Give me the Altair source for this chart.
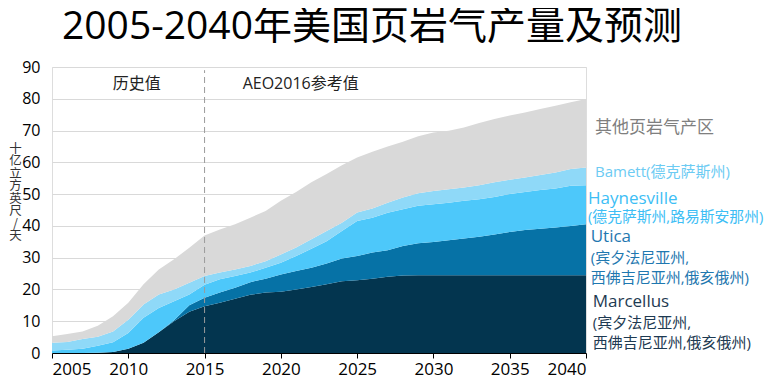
import altair as alt
import pandas as pd

years = list(range(2005, 2041))
marcellus = [0, 0, 0, 0.1, 0.3, 1.3, 3.2, 6.5, 10.0, 13.0, 14.7, 15.8, 17.1, 18.3, 19.0, 19.3, 20.0, 20.8,
             21.6, 22.6, 22.9, 23.4, 24.0, 24.4, 24.5, 24.5, 24.5, 24.5, 24.5, 24.5, 24.5, 24.5, 24.5, 24.5, 24.5, 24.5]
utica = [0, 0, 0, 0, 0, 0, 0, 0, 0.3, 2.0, 2.7, 3.2, 3.4, 4.0, 4.4, 5.4, 5.8, 6.0,
         6.6, 7.1, 7.6, 8.2, 8.3, 9.3, 10.0, 10.4, 11.0, 11.5, 12.1, 12.8, 13.6, 14.2, 14.6, 15.0, 15.5, 16.0]
haynesville = [0.8, 1.0, 1.3, 2.2, 3.1, 5.0, 7.9, 7.7, 6.0, 3.4, 4.1, 4.2, 3.7, 3.0, 3.4, 3.7, 4.7, 6.0,
               7.0, 8.7, 11.0, 11.0, 11.8, 11.5, 11.8, 11.9, 11.8, 11.9, 11.8, 11.8, 11.9, 12.0, 12.2, 12.3, 12.6, 12.3]
barnett = [2.4, 2.5, 3.1, 2.8, 3.4, 4.2, 4.2, 4.2, 3.7, 3.7, 2.7, 2.1, 2.1, 2.1, 2.1, 2.6, 2.7, 3.0,
           3.2, 2.6, 2.7, 2.9, 3.2, 3.7, 4.0, 4.2, 4.2, 4.2, 4.4, 4.6, 4.5, 4.5, 4.7, 5.0, 5.3, 5.6]
others = [2.1, 2.5, 2.4, 3.5, 4.8, 5.3, 6.3, 7.9, 9.5, 11.0, 12.8, 13.6, 14.2, 15.2, 15.8, 16.9, 17.5, 17.9,
          17.9, 18.1, 17.3, 17.8, 17.7, 17.6, 17.9, 18.4, 18.4, 18.9, 19.6, 19.9, 20.2, 20.5, 20.8, 21.0, 21.0, 21.5]

series_names = ["Marcellus", "Utica", "Haynesville", "Barnett", "其他页岩气产区"]
series_colors = ["#03354F", "#0672A6", "#4DC8FA", "#8FD9F8", "#D9D9D9"]

x_ticks = [2005, 2010, 2015, 2020, 2025, 2030, 2035, 2040]
y_ticks = [0, 10, 20, 30, 40, 50, 60, 70, 80, 90]

title_text = "2005-2040年美国页岩气产量及预测"
y_title = ["十", "亿", "立", "方", "英", "尺", "/", "天"]

period_texts = ["历史值", "AEO2016参考值"]
period_years = [2010.55, 2021.3]
period_levels = [84.7, 84.7]
split_year = [2015]

legend_lines = ["其他页岩气产区", "Bamett(德克萨斯州)", "Haynesville", "(德克萨斯州,路易斯安那州)",
                "Utica", "(宾夕法尼亚州,", "西佛吉尼亚州,俄亥俄州)",
                "Marcellus", "(宾夕法尼亚州,", "西佛吉尼亚州,俄亥俄州)"]
legend_years = [2040.59, 2040.59, 2040.13, 2040.13, 2040.31, 2040.31, 2040.31, 2040.44, 2040.44, 2040.44]
legend_levels = [70.7, 57.0, 48.6, 42.4, 36.6, 29.8, 23.5, 16.1, 9.3, 3.05]
legend_colors = ["#7F7F7F", "#6CCBF3", "#3DBEF5", "#3DBEF5", "#1F78B0", "#1F78B0", "#1F78B0",
                 "#1E3A52", "#1E3A52", "#1E3A52"]
legend_sizes = [17, 15, 17, 14.8, 17, 15, 15, 17, 15, 15]

FONT = "Open Sans, Noto Sans CJK SC"

rows = []
for i, (name, vals) in enumerate(zip(series_names, [marcellus, utica, haynesville, barnett, others])):
    for yr, v in zip(years, vals):
        rows.append({"year": yr, "value": v, "series": name, "order": i})
df = pd.DataFrame(rows)

x_scale = alt.Scale(domain=[2005, 2040], nice=False, zero=False)
y_scale = alt.Scale(domain=[0, 90], nice=False)

x_axis = alt.Axis(values=x_ticks, format="d", title=None, grid=False,
                  labelFontSize=17, labelColor="#000", labelFont=FONT,
                  domainColor="#000", tickColor="#000", tickSize=5, labelPadding=3)
y_axis = alt.Axis(values=y_ticks, grid=True, gridColor="#D9D9D9", domain=False, ticks=False,
                  labelFontSize=16, labelColor="#000", labelFont=FONT, labelPadding=12,
                  labelOverlap=False,
                  title=y_title, titleAngle=0, titleFontSize=12.5, titleLineHeight=12.5,
                  titleFont="Noto Sans CJK SC", titleFontWeight="normal", titleColor="#333",
                  titleAlign="center", titleBaseline="top", titleX=-37, titleY=75)

area = alt.Chart(df).mark_area().encode(
    x=alt.X("year:Q", scale=x_scale, axis=x_axis),
    y=alt.Y("value:Q", stack="zero", scale=y_scale, axis=y_axis),
    color=alt.Color("series:N", scale=alt.Scale(domain=series_names, range=series_colors), legend=None),
    order=alt.Order("order:Q"),
)

rule_df = pd.DataFrame({"year": split_year, "y0": [0], "y1": [89]})
rule = alt.Chart(rule_df).mark_rule(strokeDash=[6, 4], color="#9A9A9A", strokeWidth=1).encode(
    x=alt.X("year:Q", scale=x_scale, axis=x_axis),
    y=alt.Y("y0:Q", scale=y_scale, axis=y_axis), y2="y1:Q")

period_df = pd.DataFrame({"t": period_texts, "year": period_years, "v": period_levels})
period = alt.Chart(period_df).mark_text(font=FONT, fontSize=16, color="#222").encode(
    x=alt.X("year:Q", scale=x_scale, axis=x_axis),
    y=alt.Y("v:Q", scale=y_scale, axis=y_axis), text="t:N")

legend_df = pd.DataFrame({"t": legend_lines, "year": legend_years, "v": legend_levels,
                          "c": legend_colors, "s": legend_sizes})
labels = alt.Chart(legend_df).mark_text(font=FONT, align="left", baseline="middle").encode(
    x=alt.X("year:Q", scale=x_scale, axis=x_axis),
    y=alt.Y("v:Q", scale=y_scale, axis=y_axis), text="t:N",
    color=alt.Color("c:N", scale=None), size=alt.Size("s:Q", scale=None))

chart = alt.layer(area, rule, period, labels).properties(
    width=534, height=286,
    title=alt.TitleParams(title_text, anchor="start", frame="group", dx=10, dy=38, fontSize=39,
                          font=FONT, color="#000", fontWeight="normal", baseline="alphabetic", offset=19),
    autosize=alt.AutoSizeParams(type="none"),
    padding={"left": 44, "top": 59, "right": 181, "bottom": 27},
).configure_view(strokeWidth=0, stroke="transparent").configure(font=FONT)

chart.save("out.html", embed_options={"renderer": "svg", "actions": False})
